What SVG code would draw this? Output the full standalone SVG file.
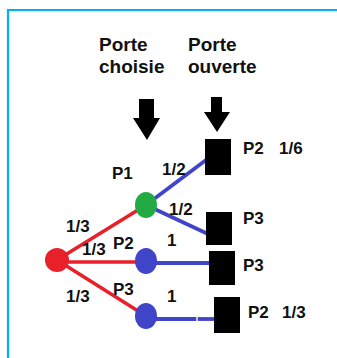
<svg xmlns="http://www.w3.org/2000/svg" width="337" height="358" viewBox="0 0 337 358">
<style>
text{font-family:"Liberation Sans",Arial,sans-serif;font-weight:bold;fill:#111}
.h{font-size:19px}
.l{font-size:17px}
.red{stroke:#e8202a;stroke-width:3.5;fill:none}
.blue{stroke:#4044c8;stroke-width:3.8;fill:none}
.sq{fill:#000}
.arr{fill:#000}
</style>
<rect width="337" height="358" fill="#fff"/>
<g id="frame" fill="none" stroke="#00b0f0" stroke-width="2.2">
<path d="M8,358 V10 H337"/>
</g>
<g id="headers">
<text class="h" x="99" y="51">Porte</text>
<text class="h" x="99" y="73">choisie</text>
<text class="h" x="188" y="51">Porte</text>
<text class="h" x="188" y="73">ouverte</text>
</g>
<g id="arrows">
<polygon class="arr" points="139,99 154,99 154,118 160,118 147,140 133,118 139,118"/>
<polygon class="arr" points="211,97 222,97 222,112 230,112 217,132 204,112 211,112"/>
</g>
<g id="connectors">
<line class="red" x1="57" y1="260" x2="146" y2="205"/>
<line class="red" x1="57" y1="262" x2="146" y2="262"/>
<line class="red" x1="57" y1="260" x2="146" y2="316"/>
<line class="blue" x1="146" y1="205" x2="206" y2="160"/>
<line class="blue" x1="146" y1="205" x2="208" y2="234"/>
<line class="blue" x1="146" y1="263" x2="210" y2="263"/>
<line class="blue" x1="146" y1="319" x2="196.3" y2="319"/>
<line class="blue" x1="197.7" y1="319" x2="215" y2="319"/>
</g>
<g id="root"><circle cx="57" cy="260" r="12" fill="#e8202a"/></g>
<g id="P1"><ellipse cx="146" cy="205" rx="11" ry="13" fill="#22aa44"/><text class="l" x="112" y="179">P1</text></g>
<g id="P2"><ellipse cx="146" cy="261" rx="11" ry="13" fill="#4044c8"/><text class="l" x="113" y="249">P2</text></g>
<g id="P3"><ellipse cx="146" cy="316" rx="11" ry="13" fill="#4044c8"/><text class="l" x="113" y="295">P3</text></g>
<g id="edge-labels">
<text class="l" x="66" y="232">1/3</text>
<text class="l" x="82" y="255">1/3</text>
<text class="l" x="66" y="302">1/3</text>
<text class="l" x="162" y="175">1/2</text>
<text class="l" x="169" y="215">1/2</text>
<text class="l" x="167" y="246">1</text>
<text class="l" x="167" y="302">1</text>
</g>
<g id="leaf1"><rect class="sq" x="205" y="139" width="26" height="36"/><text class="l" x="243" y="154">P2</text><text class="l" x="279" y="154">1/6</text></g>
<g id="leaf2"><rect class="sq" x="206" y="212" width="26" height="33"/><text class="l" x="243" y="224">P3</text></g>
<g id="leaf3"><rect class="sq" x="209" y="251" width="26" height="34"/><text class="l" x="243" y="271">P3</text></g>
<g id="leaf4"><rect class="sq" x="214" y="297" width="26" height="36"/><text class="l" x="248" y="318">P2</text><text class="l" x="282" y="318">1/3</text></g>
</svg>
